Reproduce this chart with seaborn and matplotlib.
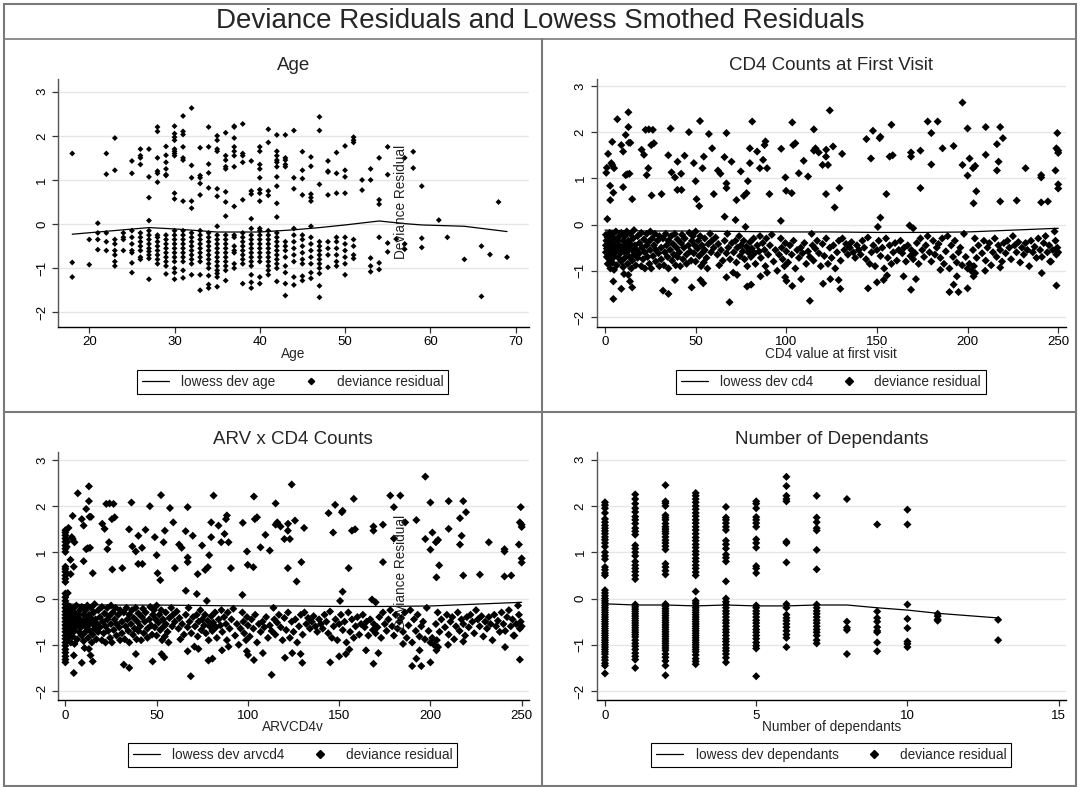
import matplotlib
matplotlib.use("Agg")
import matplotlib.pyplot as plt
from matplotlib.lines import Line2D
from matplotlib.patches import Rectangle
import pandas as pd
import seaborn as sns

W, H = 1080, 787

# --- values ---

# Age panel: age -> deviance residuals
age_resid = [
    (18, [1.6, -0.87, -1.2]),
    (20, [-0.35, -0.92]),
    (21, [0.02, -0.2, -0.35, -0.58]),
    (22, [1.6, 1.13, -0.2, -0.4, -0.6]),
    (23, [1.95, 1.22, -0.35, -0.45, -0.6, -0.7, -0.85, -0.95]),
    (24, [-0.2, -0.3, -0.35, -0.6]),
    (25, [1.43, 1.15, -0.15, -0.3, -0.45, -0.6, -0.65, -0.88, -1.1]),
    (26, [1.7, 1.55, 1.5, 1.35, -0.2, -0.3, -0.4, -0.5, -0.6, -0.75, -0.8]),
    (27, [1.7, 1.07, 0.6, 0.08, -0.15, -0.25, -0.35, -0.45, -0.55, -0.62, -0.7, -0.78, -1.25]),
    (28, [2.2, 2.1, 1.5, 1.2, 1.15, 0.95, -0.25, -0.3, -0.4, -0.5, -0.6, -0.7, -0.8, -0.9]),
    (29, [1.76, 1.56, 1.4, 1.25, 1.12, 1.1, -0.25, -0.35, -0.45, -0.55, -0.65, -0.75, -0.85, -0.95, -1.13]),
    (30, [2.22, 2.05, 1.97, 1.9, 1.7, 1.65, 1.6, 1.55, 0.7, 0.57, -0.15, -0.25, -0.35, -0.45, -0.55,
          -0.65, -0.75, -0.85, -1.0, -1.1, -1.25]),
    (31, [2.45, 2.1, 2.03, 1.75, 1.5, 1.45, 0.52, -0.15, -0.25, -0.35, -0.45, -0.55, -0.65, -0.75,
          -0.85, -1.05, -1.22]),
    (32, [2.63, 1.33, 1.05, 0.52, 0.36, -0.2, -0.3, -0.4, -0.5, -0.6, -0.7, -0.8, -0.9, -1.15]),
    (33, [1.73, 1.1, 1.05, 0.92, 0.66, -0.15, -0.25, -0.35, -0.45, -0.55, -0.65, -0.75, -0.85, -1.15, -1.5]),
    (34, [2.2, 1.75, 1.36, 1.16, 0.82, -0.2, -0.3, -0.4, -0.5, -0.6, -0.7, -0.8, -0.9, -1.0, -1.17,
          -1.37, -1.45]),
    (35, [2.0, 1.9, 1.7, 1.65, 0.8, 0.63, -0.05, -0.25, -0.35, -0.45, -0.55, -0.65, -0.75, -0.85,
          -0.95, -1.05, -1.12, -1.2, -1.42]),
    (36, [2.07, 1.55, 1.45, 1.3, 1.25, 0.73, 0.5, 0.18, -0.25, -0.35, -0.45, -0.55, -0.65, -0.75,
          -0.85, -0.95, -1.05, -1.28]),
    (37, [2.22, 2.2, 1.95, 1.75, 1.65, 1.55, 1.3, 0.4, -0.25, -0.3, -0.5, -0.6, -0.65, -0.9, -1.0]),
    (38, [2.27, 1.6, 1.55, 1.4, 0.55, -0.2, -0.3, -0.4, -0.5, -0.6, -0.7, -0.8, -0.9, -1.35]),
    (39, [1.43, 0.75, 0.68, 0.12, -0.1, -0.25, -0.35, -0.45, -0.55, -0.65, -0.75, -0.85, -0.95,
          -1.15, -1.32, -1.45]),
    (40, [1.75, 1.65, 1.35, 1.25, 1.05, 0.78, 0.7, 0.52, -0.1, -0.15, -0.25, -0.35, -0.45, -0.55,
          -0.65, -0.75, -0.85, -1.2, -1.35]),
    (41, [2.15, 1.85, 0.75, 0.65, -0.15, -0.25, -0.35, -0.45, -0.55, -0.65, -0.75, -0.85, -0.95,
          -1.05, -1.15]),
    (42, [2.02, 1.65, 1.55, 1.45, 1.4, 1.3, 1.07, 0.86, 0.47, 0.16, -0.2, -0.3, -0.4, -0.5, -0.6,
          -0.7, -0.8, -0.9, -1.0, -1.3]),
    (43, [2.02, 1.5, 1.45, 1.35, 1.3, -0.4, -0.5, -0.6, -0.75, -0.95, -1.1, -1.35, -1.62]),
    (44, [2.12, 1.05, 0.8, -0.1, -0.25, -0.4, -0.55, -0.7, -0.85, -1.2, -1.38]),
    (45, [1.64, 1.22, 1.03, 0.66, -0.25, -0.35, -0.5, -0.65, -0.8, -0.9, -1.18, -1.28]),
    (46, [1.52, 1.31, 0.68, 0.6, 0.52, -0.05, -0.3, -0.45, -0.6, -0.75, -0.9, -1.1, -1.23]),
    (47, [2.43, 2.12, 0.9, -0.4, -0.5, -0.6, -0.7, -0.8, -0.9, -1.0, -1.12, -1.4, -1.66]),
    (48, [1.43, 1.2, 1.18, 0.66, -0.4, -0.55, -0.7, -0.98]),
    (49, [1.62, 1.15, 0.7, -0.3, -0.4, -0.55, -0.7, -0.85, -0.95]),
    (50, [1.77, 1.22, 1.07, 0.7, -0.3, -0.45, -0.6, -0.75, -0.9, -1.15]),
    (51, [1.97, 1.9, 1.85, -0.35, -0.5, -0.7, -0.78]),
    (52, [1.0, 0.77]),
    (53, [1.25, 1.0, -0.77, -0.95, -1.08]),
    (54, [1.5, 0.55, 0.45, -0.3, -0.88, -1.03]),
    (55, [1.75, 1.12, -0.43, -0.63]),
    (56, [-0.34]),
    (57, [1.5, -0.45, -0.57]),
    (58, [1.64, 1.27]),
    (59, [0.86, -0.32, -0.53]),
    (61, [0.09]),
    (62, [-0.3]),
    (64, [-0.8]),
    (66, [-0.5, -1.64]),
    (67, [-0.69]),
    (68, [0.5]),
    (69, [-0.75]),
]
age_lowess_x = [18, 27, 30, 35, 40, 44, 47, 50, 54, 57, 59, 64, 69]
age_lowess_y = [-0.23, -0.08, -0.11, -0.18, -0.18, -0.13, -0.08, -0.02, 0.07, 0.01, -0.02, -0.05, -0.17]

# CD4 panel: (cd4, residual) points above and below the lowess line
cd4_upper = [
    (1.3, 0.12), (0.7, 1.12), (1, 1.23), (1.7, 1.53), (2.8, 0.84), (2.9, 0.53), (4, 1.79), (4, 1.29),
    (4.6, 0.69), (3.5, 1.33), (5, 1.22), (6.8, 2.28), (9, 1.72), (10, 1.58), (10, 0.81), (11.4, 1.94),
    (11.4, 1.07), (12.9, 2.43), (12.9, 2.11), (13.2, 1.77), (14, 1.77), (12.3, 1.09), (13.5, 1.1),
    (15, 0.55), (20.2, 1.62), (21.5, 1.51), (23, 1.07), (22.4, 2.05), (24.2, 2.06), (26.4, 2.05),
    (23.9, 1.22), (25.5, 1.72), (27, 1.76), (25.7, 0.63), (31.2, 0.66), (36.2, 2.08), (34.9, 1.5),
    (36.7, 1.13), (38.6, 1.02), (39.9, 0.75), (42.2, 0.75), (40, 1.36), (43.9, 1.49), (42, 1.1),
    (46.3, 2.0), (49, 1.33), (50, 0.94), (52.4, 2.24), (50.5, 0.55), (52, 0.4), (53.8, 1.22),
    (54.5, 1.47), (57.3, 1.96), (59.1, 1.65), (60, 0.66), (62.3, 1.17), (63.7, 1.1), (67, 1.98),
    (65.9, 1.46), (67, 0.89), (67, 0.79), (66, 0.17), (69.8, 1.36), (72.5, 0.53), (72, 0.1),
    (74.9, 1.15), (76.6, 0.62), (78.1, 0.68), (78.8, 0.94), (79.9, 1.65), (79.9, 1.33), (81.2, 2.23),
    (83.9, 1.58), (85.4, 1.22), (87.2, 1.4), (88.5, 1.8), (89.4, 1.22), (90.7, 0.66), (88, 1.72),
    (97.2, 1.64), (97, 0.08), (99.5, 1.02), (99.9, 0.73), (103.3, 2.21), (103.8, 1.72), (105, 1.76),
    (103, 0.68), (106.9, 1.11), (109.6, 1.38), (112, 1.04), (115.2, 2.06), (116.1, 1.65), (115.2, 1.6),
    (117.9, 1.56), (121.9, 1.47), (121.9, 0.66), (123, 1.29), (124, 2.47), (125.8, 1.69), (122, 1.62),
    (129.3, 0.79), (130.8, 1.53), (126.7, 0.37), (120, 1.29), (144.2, 1.85), (147.8, 2.03),
    (146.7, 1.43), (151.9, 1.9), (151.5, 1.87), (151.9, 0.15), (158, 2.16), (157, 1.47), (158.7, 1.5),
    (155.2, 0.66), (168.8, 1.56), (168.8, 1.47), (174, 0.79), (174, 1.6), (178, 2.23), (180, 1.98),
    (180, 1.3), (183.5, 2.23), (186.2, 1.65), (192.3, 1.7), (197.2, 2.64), (197.2, 1.29), (200, 2.08),
    (201.1, 1.43), (200, 1.06), (203, 1.22), (204.2, 1.27), (204.8, 0.72), (203.3, 0.46), (210, 1.51),
    (210, 2.11), (216.2, 1.74), (217.1, 1.36), (216.2, 1.17), (218, 2.11), (219.5, 1.87), (218, 0.5),
    (227.1, 0.52), (232, 1.22), (240.6, 1.07), (240.6, 1.02), (240.6, 0.48), (244.3, 0.5),
    (249.5, 1.98), (249, 1.65), (250, 1.6), (250, 1.55), (248.5, 1.17), (250, 0.87), (250, 0.78),
]
cd4_lower = [
    (0.5, -0.22), (0.5, -0.45), (0.5, -0.6), (0.8, -0.35), (1, -0.52), (1, -0.7), (1.5, -0.28),
    (1.5, -0.85), (2, -0.4), (2, -0.62), (2.5, -0.18), (2.5, -0.75), (3, -0.3), (3, -0.5), (3, -0.95),
    (3.5, -0.65), (4, -0.22), (4, -0.42), (4, -0.82), (4.5, -0.55), (5, -0.3), (5, -0.7), (5, -0.98),
    (5.5, -0.45), (6, -0.15), (6, -0.6), (6.5, -0.88), (7, -0.35), (7, -0.52), (7.5, -0.72), (8, -0.25),
    (8, -0.45), (8.5, -0.62), (9, -0.18), (9, -0.8), (9.5, -0.5), (10, -0.35), (10, -0.92),
    (10.5, -0.58), (11, -0.25), (11, -0.72), (11.5, -0.45), (12, -0.15), (12, -0.6), (12.5, -0.85),
    (13, -0.35), (13, -0.5), (13.5, -0.7), (14, -0.2), (14, -0.42), (14.5, -0.95), (15, -0.55),
    (15, -0.78), (15.5, -0.3), (16, -0.12), (16, -0.65), (16.5, -0.45), (17, -0.88), (17.5, -0.55),
    (18, -0.25), (18, -0.72), (19, -0.4), (19, -0.62), (20, -0.18), (20, -0.9), (20.5, -0.5),
    (21, -0.75), (21.5, -0.32), (22, -0.6), (22, -0.95), (23, -0.2), (23, -0.45), (23.5, -0.7),
    (24, -0.38), (24.5, -0.85), (25, -0.55), (25, -0.15), (25.5, -0.95), (26, -0.3), (26.5, -0.68),
    (27, -0.45), (27.5, -0.2), (28, -0.8), (28, -0.55), (29, -0.35), (29.5, -0.62), (30, -0.9),
    (30, -0.25), (31, -0.5), (31, -0.75), (32, -0.3), (32.5, -0.88), (33, -0.6), (33.5, -0.2),
    (34, -0.45), (34.5, -0.7), (35, -0.35), (35, -0.95), (36, -0.55), (36.5, -0.25), (37, -0.78),
    (37.5, -0.42), (38, -0.65), (38.5, -0.2), (39, -0.88), (39.5, -0.5), (40, -0.32), (40, -0.7),
    (41, -0.6), (41.5, -0.9), (42, -0.4), (42.5, -0.22), (43, -0.75), (43.5, -0.5), (44, -0.3),
    (45, -0.65), (45, -0.85), (46, -0.45), (46.5, -0.18), (47, -0.58), (47.5, -0.78), (48, -0.35),
    (48.5, -0.25), (49, -0.62), (49.5, -0.45), (50, -0.15), (50, -0.8), (51, -0.52), (51.5, -0.35),
    (52, -0.68), (52.5, -0.25), (53, -0.9), (53.5, -0.45), (54, -0.6), (54.5, -0.82), (55, -0.3),
    (55, -0.55), (56, -0.72), (56.5, -0.95), (57, -0.42), (58, -0.2), (58.5, -0.6), (59, -0.35),
    (60, -0.5), (61, -0.28), (62, -0.65), (62.5, -0.42), (63, -0.88), (64, -0.55), (65, -0.78),
    (66, -0.35), (67, -0.62), (67.5, -0.2), (68, -0.5), (69, -0.75), (70, -0.4), (71, -0.6),
    (72, -0.35), (72.5, -0.82), (73, -0.5), (74, -0.25), (74.5, -0.68), (75, -0.45), (76, -0.58),
    (76.5, -0.35), (77, -0.75), (77.5, -0.05), (78, -0.48), (78.5, -0.9), (79, -0.6), (80, -0.38),
    (80.5, -0.7), (81, -0.52), (82, -0.3), (82.5, -0.62), (83, -0.85), (84, -0.45), (85, -0.58),
    (85.5, -0.25), (86, -0.72), (87, -0.4), (88, -0.55), (88.5, -0.9), (89, -0.3), (90, -0.65),
    (91, -0.45), (92, -0.22), (93, -0.8), (94, -0.55), (95, -1.0), (96, -0.65), (97, -0.3),
    (97.5, -0.5), (98, -0.75), (99, -0.9), (99.5, -0.4), (100, -0.58), (101, -0.82), (102, -0.45),
    (103, -0.65), (104, -0.35), (105, -0.95), (106, -0.55), (107, -0.72), (108, -0.5), (109, -0.62),
    (110, -0.4), (111, -0.85), (112, -0.58), (113, -0.7), (114, -0.2), (114.5, -0.45), (115, -0.78),
    (116, -0.52), (117, -0.35), (118, -0.62), (119, -0.9), (120, -0.42), (121, -0.68), (122, -0.3),
    (123, -0.85), (124, -0.5), (125, -0.72), (126, -0.45), (127, -0.95), (128, -0.6), (129, -0.35),
    (130, -0.78), (131, -0.3), (132, -0.55), (133, -0.42), (134, -0.65), (135, -0.5), (136, -0.38),
    (137, -0.6), (138, -0.72), (139, -0.45), (140, -0.55), (141, -0.65), (142, -0.35), (143, -0.5),
    (144, -0.75), (145, -0.28), (146, -0.85), (147, -0.6), (148, -0.45), (149, -0.9), (150, -0.55),
    (150.5, -0.05), (151, -0.35), (152, -0.68), (153, -0.5), (154, -0.95), (155, -0.3), (156, -0.72),
    (157, -0.45), (158, -0.85), (159, -0.6), (160, -0.4), (161, -0.78), (162, -0.55), (163, -0.35),
    (164, -0.62), (165, -0.5), (166, -0.8), (167, -0.45), (168, -0.02), (168.5, -0.68), (169, -0.55),
    (170, -0.08), (170, -0.75), (171, -0.62), (172, -0.4), (173, -0.85), (174, -0.3), (175, -0.55),
    (176, -0.7), (177, -0.45), (178, -0.25), (179, -0.6), (180, -0.8), (181, -0.35), (182, -0.65),
    (183, -0.5), (184, -0.42), (185, -0.72), (186, -0.3), (187, -0.85), (188, -0.58), (189, -0.25),
    (190, -0.95), (191, -0.45), (192, -0.7), (193, -0.35), (194, -0.82), (195, -0.6), (196, -0.5),
    (197, -0.88), (198, -0.2), (199, -0.7), (200, -0.95), (201, -0.85), (202, -1.0), (203, -0.55),
    (203.5, -0.9), (204, -0.3), (205, -0.72), (206, -0.45), (208, -0.62), (209, -0.35), (210, -0.78),
    (211, -0.5), (212, -0.4), (213, -0.88), (214, -0.6), (215, -0.3), (216, -0.7), (217, -0.45),
    (218, -0.55), (219, -0.8), (220, -0.4), (221, -0.62), (222, -0.35), (223, -0.5), (224, -0.75),
    (225, -0.25), (226, -0.45), (227, -0.6), (228, -0.38), (229, -0.82), (230, -0.5), (231, -0.65),
    (232, -0.4), (233, -0.55), (234, -0.9), (235, -0.35), (236, -0.6), (237, -0.48), (238, -0.72),
    (239, -0.3), (240, -0.55), (241, -0.7), (242, -0.4), (243, -0.25), (244, -0.6), (245, -0.45),
    (246, -0.8), (247, -0.55), (248, -0.15), (248.5, -0.35), (249, -0.65), (249.5, -0.5), (250, -0.6),
    # low outliers
    (4.6, -1.61), (4.6, -1.23), (9, -1.39), (12.9, -1.09), (15, -1.36), (13.8, -1.23), (10.5, -1.07),
    (32, -1.43), (35, -1.5), (38.6, -1.2), (47.8, -1.36), (52.7, -1.2), (54.2, -1.27), (68.7, -1.68),
    (67, -1.14), (70.7, -1.04), (72.9, -1.09), (78.4, -1.34), (80.6, -1.3), (85.8, -1.12),
    (89.4, -1.04), (99.4, -1.14), (100.1, -1.22), (103.3, -1.33), (108.2, -1.18), (113, -1.65),
    (120.3, -1.28), (124.3, -1.18), (129.8, -1.39), (128.9, -1.2), (145.1, -1.38), (150, -1.25),
    (153.7, -1.2), (155.6, -1.1), (168.8, -1.41), (171.5, -1.18), (164.7, -1.12), (185, -0.98),
    (190, -1.46), (192.3, -1.3), (195, -1.46), (194.1, -1.12), (200, -1.38), (203.3, -1.12),
    (204.2, -1.05), (209.7, -1.0), (218, -0.93), (240.9, -1.05), (245.5, -0.8), (249, -1.32),
]
cd4_lowess_x = [0, 10, 25, 50, 75, 100, 125, 150, 175, 200, 225, 250]
cd4_lowess_y = [-0.12, -0.13, -0.14, -0.14, -0.15, -0.16, -0.16, -0.17, -0.17, -0.16, -0.12, -0.08]

# ARV x CD4 panel: same points plus the column of patients at ARVCD4v = 0
arv_zero = [1.48, 1.43, 1.37, 1.3, 1.23, 1.15, 1.08, 1.01, 0.69, 0.64, 0.58, 0.5, 0.43, 0.36,
            0.11, 0.03, -0.05, -0.12, -0.2, -0.28, -0.35, -0.42, -0.5, -0.57, -0.65, -0.72, -0.8,
            -0.87, -0.95, -1.02, -1.1, -1.17, -1.25, -1.32, -1.38]
arv_lowess_x = [0, 3, 10, 25, 50, 75, 100, 125, 150, 175, 200, 225, 250]
arv_lowess_y = [-0.06, -0.12, -0.13, -0.14, -0.14, -0.15, -0.16, -0.16, -0.17, -0.17, -0.16, -0.12, -0.08]

# Number of dependants panel
dep_resid = [
    (0, [2.08, 2.02, 1.95, 1.85, 1.72, 1.65, 1.58, 1.52, 1.46, 1.4, 1.33, 1.27, 1.2, 1.12, 1.0, 0.92,
         0.85, 0.68, 0.62, 0.55, 0.5, 0.18, 0.12, 0.06, 0.0, -0.05, -0.1, -0.15, -0.2, -0.25, -0.3,
         -0.35, -0.4, -0.45, -0.5, -0.55, -0.6, -0.65, -0.7, -0.75, -0.8, -0.85, -0.9, -0.95, -1.0,
         -1.05, -1.1, -1.15, -1.2, -1.27, -1.33, -1.4, -1.45, -1.62]),
    (1, [2.25, 2.15, 2.05, 1.95, 1.87, 1.77, 1.7, 1.62, 1.52, 1.45, 1.38, 1.15, 1.08, 1.0, 0.92, 0.8,
         0.72, 0.65, 0.58, 0.5, 0.42, -0.13, -0.18, -0.23, -0.28, -0.33, -0.38, -0.43, -0.48, -0.53,
         -0.58, -0.63, -0.68, -0.73, -0.78, -0.83, -0.9, -0.97, -1.03, -1.1, -1.18, -1.25, -1.32, -1.5]),
    (2, [2.45, 2.1, 2.06, 2.0, 1.8, 1.75, 1.7, 1.62, 1.55, 1.5, 1.45, 1.4, 1.33, 1.26, 1.2, 1.13, 1.06,
         0.75, 0.68, 0.6, 0.52, -0.12, -0.17, -0.22, -0.27, -0.32, -0.37, -0.42, -0.47, -0.52, -0.57,
         -0.62, -0.67, -0.72, -0.77, -0.82, -0.87, -0.92, -0.97, -1.02, -1.07, -1.12, -1.2, -1.27,
         -1.35, -1.45, -1.66]),
    (3, [2.28, 2.22, 2.15, 2.08, 2.0, 1.93, 1.85, 1.78, 1.7, 1.63, 1.55, 1.48, 1.4, 1.32, 1.25, 1.17,
         1.1, 1.02, 0.95, 0.87, 0.8, 0.72, 0.65, 0.57, 0.5, 0.15, -0.05, -0.1, -0.15, -0.2, -0.25,
         -0.3, -0.35, -0.4, -0.45, -0.5, -0.55, -0.6, -0.65, -0.7, -0.75, -0.8, -0.85, -0.9, -0.95,
         -1.0, -1.05, -1.1, -1.15, -1.22, -1.3, -1.36, -1.42]),
    (4, [1.98, 1.75, 1.7, 1.63, 1.55, 1.48, 1.25, 1.17, 1.08, 0.95, 0.88, 0.8, 0.37, 0.0, -0.07,
         -0.13, -0.2, -0.27, -0.33, -0.4, -0.47, -0.53, -0.6, -0.67, -0.73, -0.8, -0.87, -0.93, -1.0,
         -1.07, -1.13, -1.2, -1.28, -1.38]),
    (5, [2.1, 2.05, 1.95, 1.76, 1.7, 1.63, 1.55, 1.28, 1.2, 1.1, 0.7, 0.65, 0.55, -0.15, -0.2, -0.27,
         -0.33, -0.4, -0.47, -0.53, -0.6, -0.67, -0.73, -0.8, -0.87, -0.95, -1.02, -1.08, -1.68]),
    (6, [2.63, 2.43, 2.22, 2.15, 2.1, 1.23, 1.2, 0.78, -0.12, -0.2, -0.35, -0.42, -0.48, -0.55, -0.62,
         -0.7, -0.78, -0.85, -1.05]),
    (7, [2.22, 1.75, 1.65, 1.52, 1.47, 1.05, 0.63, -0.13, -0.2, -0.27, -0.33, -0.4, -0.47, -0.53,
         -0.6, -0.67, -0.73, -0.8, -0.9, -0.97]),
    (8, [2.15, -0.5, -0.63, -0.68, -1.2]),
    (9, [1.6, -0.28, -0.42, -0.5, -0.62, -0.7, -0.73, -0.95, -1.14]),
    (10, [1.92, 1.6, -0.13, -0.44, -0.64, -0.93, -0.98, -1.05]),
    (11, [-0.33, -0.38, -0.45, -0.48]),
    (13, [-0.46, -0.9]),
]
dep_lowess_x = [0, 1, 2, 3, 4, 5, 6, 7, 8, 9, 10, 11, 13]
dep_lowess_y = [-0.115, -0.14, -0.14, -0.16, -0.14, -0.16, -0.16, -0.14, -0.14, -0.2, -0.25, -0.32, -0.42]


def grouped_to_df(groups):
    rows = [(x, y) for x, ys in groups for y in ys]
    return pd.DataFrame(rows, columns=["x", "y"])


df_age = grouped_to_df(age_resid)
df_cd4 = pd.DataFrame(cd4_upper + cd4_lower, columns=["x", "y"])
df_arv = pd.concat([df_cd4, pd.DataFrame({"x": [0.0] * len(arv_zero), "y": arv_zero})],
                   ignore_index=True)
df_dep = grouped_to_df(dep_resid)

sns.set_theme(style="white")
plt.rcParams["font.family"] = ["Liberation Sans", "DejaVu Sans"]

fig = plt.figure(figsize=(W / 100, H / 100), dpi=100)


def fx(px):
    return px / W


def fy(py):
    return 1 - py / H


# panel layout in pixels of the 1080x787 picture
panels = [
    dict(df=df_age, lx=age_lowess_x, ly=age_lowess_y, box=(57.9, 528.6, 79, 326.7),
         xlim=(16.32, 71.53), ylim=(-2.326, 3.288), xticks=[20, 30, 40, 50, 60, 70],
         title="Age", title_y=65.7, xlabel="Age", xlabel_y=354,
         leg=(136.7, 448.7, 382.2), leg_line="lowess dev age", ms=9, lms=3.2, stray=201.5),
    dict(df=df_cd4, lx=cd4_lowess_x, ly=cd4_lowess_y, box=(596.5, 1066.2, 79, 326.7),
         xlim=(-4.69, 254.4), ylim=(-2.21, 3.15), xticks=[0, 50, 100, 150, 200, 250],
         title="CD4 Counts at First Visit", title_y=65.7, xlabel="CD4 value at first visit",
         xlabel_y=354, leg=(675.3, 986.3, 382.2), leg_line="lowess dev cd4", ms=17, lms=4.5, stray=None),
    dict(df=df_arv, lx=arv_lowess_x, ly=arv_lowess_y, box=(57.9, 528.6, 452.3, 700),
         xlim=(-4.1, 253.8), ylim=(-2.195, 3.167), xticks=[0, 50, 100, 150, 200, 250],
         title="ARV x CD4 Counts", title_y=439, xlabel="ARVCD4v", xlabel_y=727.3,
         leg=(127.4, 458, 755), leg_line="lowess dev arvcd4", ms=17, lms=4.5, stray=571.5),
    dict(df=df_dep, lx=dep_lowess_x, ly=dep_lowess_y, box=(596.5, 1066.2, 452.3, 700.3),
         xlim=(-0.28, 15.25), ylim=(-2.2, 3.16), xticks=[0, 5, 10, 15],
         title="Number of Dependants", title_y=439, xlabel="Number of dependants", xlabel_y=727.3,
         leg=(650.9, 1011.8, 755), leg_line="lowess dev dependants", ms=17, lms=4.5, stray=None),
]

for p in panels:
    l, r, t, b = p["box"]
    ax = fig.add_axes([fx(l), fy(b), (r - l) / W, (b - t) / H])
    ax.set_facecolor("white")
    sns.scatterplot(data=p["df"], x="x", y="y", marker="D", s=p["ms"], color="black",
                    edgecolor="none", linewidth=0, ax=ax, zorder=3)
    sns.lineplot(x=p["lx"], y=p["ly"], color="black", linewidth=0.9, estimator=None,
                 ax=ax, zorder=4)
    ax.set_xlim(*p["xlim"])
    ax.set_ylim(*p["ylim"])
    ax.set_xticks(p["xticks"])
    ax.set_yticks([-2, -1, 0, 1, 2, 3])
    ax.set_xlabel("")
    ax.set_ylabel("")
    ax.yaxis.grid(True, color="#e6e6e6", linewidth=1)
    ax.set_axisbelow(True)
    for s in ("top", "right"):
        ax.spines[s].set_visible(False)
    ax.spines["left"].set_color("#555555")
    ax.spines["bottom"].set_color("black")
    ax.spines["left"].set_linewidth(1)
    ax.spines["bottom"].set_linewidth(1)
    ax.tick_params(axis="both", direction="out", length=4, width=0.9, color="#333333",
                   labelsize=9.5, labelcolor="black", pad=3, left=True, bottom=True)
    ax.tick_params(axis="y", labelrotation=90)
    for lab in ax.get_yticklabels():
        lab.set_va("center")

    cx = (l + r) / 2
    fig.text(fx(cx), fy(p["title_y"]), p["title"], ha="center", va="center", fontsize=13.5)
    fig.text(fx(cx), fy(p["xlabel_y"]), p["xlabel"], ha="center", va="center", fontsize=9.8)

    if p["stray"] is not None:
        fig.text(fx(401), fy(p["stray"]), "Deviance Residual", rotation=90, ha="center",
                 va="center", fontsize=9.8, color="#222222")

    x0, x1, ycen = p["leg"]
    handles = [Line2D([0], [0], color="black", linewidth=0.9),
               Line2D([0], [0], marker="D", color="black", linestyle="none", markersize=p["lms"])]
    leg = fig.legend(handles, [p["leg_line"], "deviance residual"], ncol=2, loc="center",
                     bbox_to_anchor=(fx((x0 + x1) / 2), fy(ycen)), frameon=True, fancybox=False,
                     edgecolor="black", framealpha=1, fontsize=9.8, handlelength=2.0,
                     columnspacing=1.6, handletextpad=0.9, borderpad=0.35)
    leg.get_frame().set_linewidth(0.8)

# frames around the combined graph
grey = "#7a7a7a"
fig.add_artist(Rectangle((fx(4), fy(786)), (1075.7 - 4) / W, (786 - 4) / H, transform=fig.transFigure,
                         fill=False, edgecolor=grey, linewidth=1.5))
fig.add_artist(Line2D([fx(4), fx(1075.7)], [fy(39), fy(39)], transform=fig.transFigure,
                      color=grey, linewidth=1.2))
fig.add_artist(Line2D([fx(542), fx(542)], [fy(39), fy(786)], transform=fig.transFigure,
                      color=grey, linewidth=1.5))
fig.add_artist(Line2D([fx(4), fx(1075.7)], [fy(412), fy(412)], transform=fig.transFigure,
                      color=grey, linewidth=1.5))
fig.text(0.5, fy(21.5), "Deviance Residuals and Lowess Smothed Residuals", ha="center",
         va="center", fontsize=20)

fig.savefig("out.png", dpi=100, facecolor="white")
